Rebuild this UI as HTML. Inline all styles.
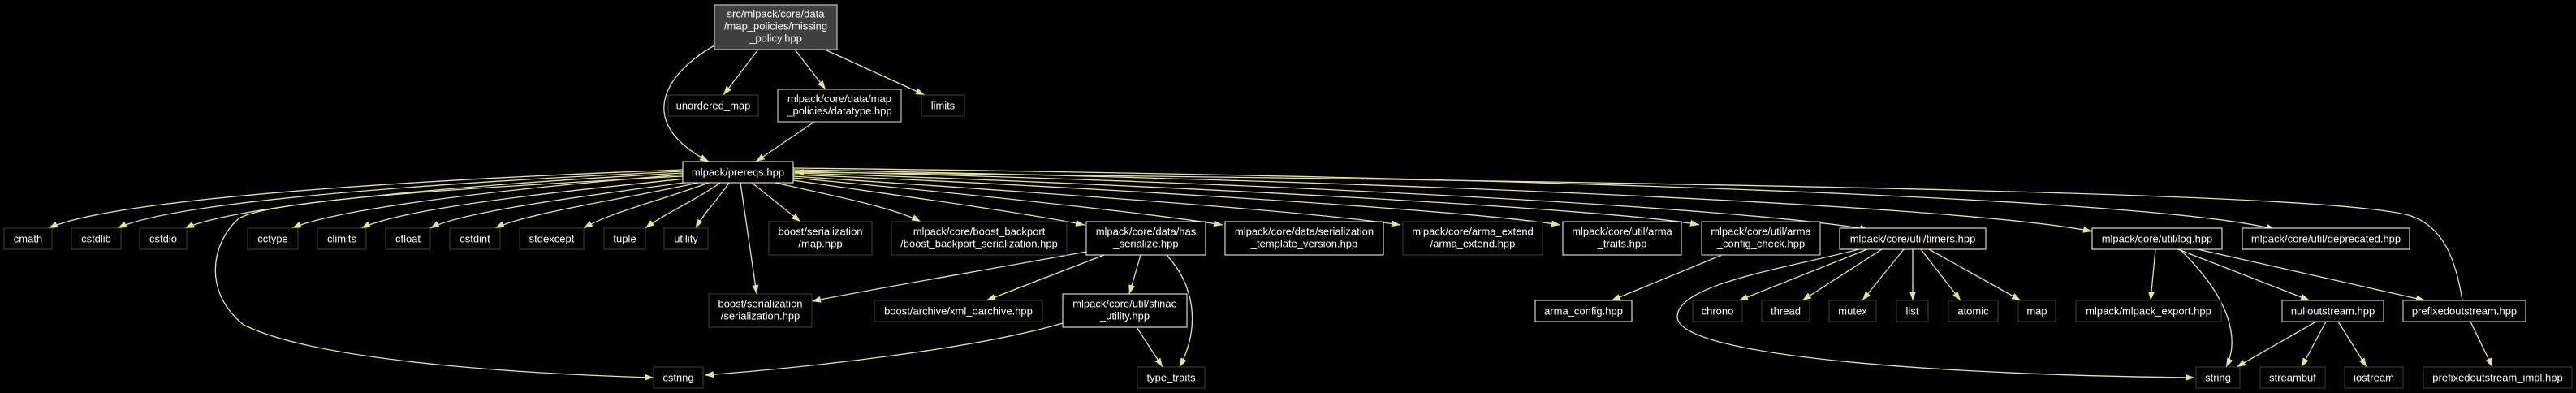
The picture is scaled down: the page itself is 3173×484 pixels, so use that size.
<!DOCTYPE html>
<html><head><meta charset="utf-8"><style>
html,body{margin:0;padding:0;background:#000;}
svg{display:block;}
text{font-family:"Liberation Sans",Arial,sans-serif;font-size:13px;fill:#fff;text-anchor:middle;}
.e{fill:none;stroke:#e6e68c;stroke-width:1.3;marker-end:url(#a);}
.g{fill:#000;stroke:#404040;stroke-width:1;}
.w{fill:#000;stroke:#fff;stroke-width:1;}
.l{fill:#000;stroke:#bfbfbf;stroke-width:1.2;}
</style></head><body>
<svg width="3173" height="484" viewBox="0 0 3173 484" xmlns="http://www.w3.org/2000/svg">
<defs><marker id="a" markerUnits="userSpaceOnUse" markerWidth="12" markerHeight="10" refX="11" refY="4" orient="auto"><polygon points="0,0 11,4 0,8" fill="#e6e68c"/></marker></defs>
<rect width="3173" height="484" fill="#000"/>
<!-- edges -->
<path class="e" d="M880,56 C820,90 780,150 873,199"/>
<path class="e" d="M934,61 L891,117"/>
<path class="e" d="M979,61 L1017,110"/>
<path class="e" d="M1016,61 L1139,117"/>
<path class="e" d="M1003,150 L931,199"/>
<path class="e" d="M841,209 C600,218 150,240 60,281"/>
<path class="e" d="M841,211 C600,222 220,245 145,281"/>
<path class="e" d="M841,213 C600,226 300,250 228,281"/>
<path class="e" d="M841,215 C650,230 420,255 360,281"/>
<path class="e" d="M845,220 C700,235 500,255 445,281"/>
<path class="e" d="M850,224 C730,240 570,260 530,281"/>
<path class="e" d="M860,225 C770,245 650,262 610,281"/>
<path class="e" d="M873,225 C820,245 750,262 719,281"/>
<path class="e" d="M887,225 C860,245 815,265 795,281"/>
<path class="e" d="M898,225 C885,245 865,265 857,281"/>
<path class="e" d="M841,217 C500,235 320,250 293,270 C260,300 250,360 300,400 C400,450 700,462 805,465"/>
<path class="e" d="M926,225 L986,273"/>
<path class="e" d="M912,225 L932,362"/>
<path class="e" d="M955,225 C1020,240 1100,255 1134,273"/>
<path class="e" d="M977,222 C1100,240 1250,260 1336,277"/>
<path class="e" d="M977,219 C1150,235 1400,260 1506,277"/>
<path class="e" d="M977,217 C1200,232 1600,258 1725,277"/>
<path class="e" d="M977,215 C1300,228 1800,258 1922,277"/>
<path class="e" d="M977,213 C1400,226 2000,258 2093,277"/>
<path class="e" d="M977,211 C1500,222 2150,255 2302,283"/>
<path class="e" d="M977,209 C1600,220 2400,250 2577,285"/>
<path class="e" d="M977,207 C1700,215 2650,240 2803,283"/>
<path class="e" d="M3033,370 C3025,320 3010,280 2970,266 C2900,245 2500,228 979,212"/>
<path class="e" d="M1338,310 C1200,335 1080,355 1000,371"/>
<path class="e" d="M1360,314 L1215,370"/>
<path class="e" d="M1405,314 L1391,362"/>
<path class="e" d="M1437,314 C1470,350 1480,400 1453,452"/>
<path class="e" d="M1400,403 L1432,452"/>
<path class="e" d="M1309,398 C1200,430 1000,452 868,462"/>
<path class="e" d="M2121,314 L1985,370"/>
<path class="e" d="M2300,307 L2142,370"/>
<path class="e" d="M2318,307 L2220,370"/>
<path class="e" d="M2345,307 L2294,370"/>
<path class="e" d="M2356,307 L2356,370"/>
<path class="e" d="M2366,307 L2415,370"/>
<path class="e" d="M2376,307 L2489,370"/>
<path class="e" d="M2290,307 C2200,330 2066,350 2066,390 C2066,440 2400,462 2703,465"/>
<path class="e" d="M2655,307 L2649,370"/>
<path class="e" d="M2685,307 C2750,370 2758,420 2742,452"/>
<path class="e" d="M2683,307 L2845,370"/>
<path class="e" d="M2707,307 L2987,370"/>
<path class="e" d="M2853,396 L2755,452"/>
<path class="e" d="M2865,396 L2835,452"/>
<path class="e" d="M2880,396 L2915,452"/>
<path class="e" d="M3043,396 L3070,452"/>
<!-- nodes -->
<rect x="880" y="6" width="151" height="55" fill="#404040" stroke="#bfbfbf" stroke-width="1.2"/>
<text x="955.5" y="21.5">src/mlpack/core/data</text><text x="955.5" y="36.5">/map_policies/missing</text><text x="955.5" y="51.5">_policy.hpp</text>
<rect class="g" x="823" y="117" width="111" height="26"/><text x="878.5" y="134.5">unordered_map</text>
<rect class="l" x="958" y="110" width="152" height="40"/><text x="1034" y="126">mlpack/core/data/map</text><text x="1034" y="141">_policies/datatype.hpp</text>
<rect class="g" x="1135" y="117" width="53" height="26"/><text x="1161.5" y="134.5">limits</text>
<rect class="w" x="841" y="199" width="136" height="26"/><text x="909" y="216.5">mlpack/prereqs.hpp</text>
<rect class="g" x="5" y="281" width="59" height="26"/><text x="34.5" y="298.5">cmath</text>
<rect class="g" x="88" y="281" width="61" height="26"/><text x="118.5" y="298.5">cstdlib</text>
<rect class="g" x="172" y="281" width="58" height="26"/><text x="201" y="298.5">cstdio</text>
<rect class="g" x="305" y="281" width="62" height="26"/><text x="336" y="298.5">cctype</text>
<rect class="g" x="391" y="281" width="60" height="26"/><text x="421" y="298.5">climits</text>
<rect class="g" x="475" y="281" width="55" height="26"/><text x="502.5" y="298.5">cfloat</text>
<rect class="g" x="554" y="281" width="62" height="26"/><text x="585" y="298.5">cstdint</text>
<rect class="g" x="640" y="281" width="79" height="26"/><text x="679.5" y="298.5">stdexcept</text>
<rect class="g" x="744" y="281" width="51" height="26"/><text x="769.5" y="298.5">tuple</text>
<rect class="g" x="818" y="281" width="54" height="26"/><text x="845" y="298.5">utility</text>
<rect class="g" x="947" y="273" width="127" height="41"/><text x="1010.5" y="289.5">boost/serialization</text><text x="1010.5" y="304.5">/map.hpp</text>
<rect class="g" x="1098" y="273" width="216" height="41"/><text x="1206" y="289.5">mlpack/core/boost_backport</text><text x="1206" y="304.5">/boost_backport_serialization.hpp</text>
<rect class="w" x="1338" y="273" width="147" height="41"/><text x="1411.5" y="289.5">mlpack/core/data/has</text><text x="1411.5" y="304.5">_serialize.hpp</text>
<rect class="w" x="1509" y="273" width="195" height="41"/><text x="1606.5" y="289.5">mlpack/core/data/serialization</text><text x="1606.5" y="304.5">_template_version.hpp</text>
<rect class="g" x="1728" y="273" width="172" height="41"/><text x="1814" y="289.5">mlpack/core/arma_extend</text><text x="1814" y="304.5">/arma_extend.hpp</text>
<rect class="w" x="1925" y="273" width="146" height="41"/><text x="1998" y="289.5">mlpack/core/util/arma</text><text x="1998" y="304.5">_traits.hpp</text>
<rect class="l" x="2096" y="273" width="146" height="41"/><text x="2169" y="289.5">mlpack/core/util/arma</text><text x="2169" y="304.5">_config_check.hpp</text>
<rect class="w" x="2266" y="281" width="180" height="26"/><text x="2356" y="298.5">mlpack/core/util/timers.hpp</text>
<rect class="w" x="2577" y="281" width="160" height="26"/><text x="2657" y="298.5">mlpack/core/util/log.hpp</text>
<rect class="w" x="2762" y="281" width="206" height="26"/><text x="2865" y="298.5">mlpack/core/util/deprecated.hpp</text>
<rect class="g" x="1077" y="370" width="207" height="26"/><text x="1180.5" y="387.5">boost/archive/xml_oarchive.hpp</text>
<rect class="w" x="1891" y="370" width="119" height="26"/><text x="1950.5" y="387.5">arma_config.hpp</text>
<rect class="g" x="2085" y="370" width="61" height="26"/><text x="2115.5" y="387.5">chrono</text>
<rect class="g" x="2170" y="370" width="59" height="26"/><text x="2199.5" y="387.5">thread</text>
<rect class="g" x="2253" y="370" width="58" height="26"/><text x="2282" y="387.5">mutex</text>
<rect class="g" x="2336" y="370" width="39" height="26"/><text x="2355.5" y="387.5">list</text>
<rect class="g" x="2400" y="370" width="61" height="26"/><text x="2430.5" y="387.5">atomic</text>
<rect class="g" x="2486" y="370" width="46" height="26"/><text x="2509" y="387.5">map</text>
<rect class="g" x="2557" y="370" width="179" height="26"/><text x="2646.5" y="387.5">mlpack/mlpack_export.hpp</text>
<rect class="l" x="2811" y="370" width="125" height="26"/><text x="2873.5" y="387.5">nulloutstream.hpp</text>
<rect class="l" x="2960" y="370" width="151" height="26"/><text x="3035.5" y="387.5">prefixedoutstream.hpp</text>
<rect class="g" x="873" y="362" width="127" height="41"/><text x="936.5" y="378.5">boost/serialization</text><text x="936.5" y="393.5">/serialization.hpp</text>
<rect class="w" x="1309" y="362" width="153" height="41"/><text x="1385.5" y="378.5">mlpack/core/util/sfinae</text><text x="1385.5" y="393.5">_utility.hpp</text>
<rect class="g" x="805" y="452" width="61" height="26"/><text x="835.5" y="469.5">cstring</text>
<rect class="g" x="1401" y="452" width="83" height="26"/><text x="1442.5" y="469.5">type_traits</text>
<rect class="g" x="2705" y="452" width="54" height="26"/><text x="2732" y="469.5">string</text>
<rect class="g" x="2784" y="452" width="80" height="26"/><text x="2824" y="469.5">streambuf</text>
<rect class="g" x="2888" y="452" width="72" height="26"/><text x="2924" y="469.5">iostream</text>
<rect class="g" x="2985" y="452" width="183" height="26"/><text x="3076.5" y="469.5">prefixedoutstream_impl.hpp</text>
</svg>
</body></html>
